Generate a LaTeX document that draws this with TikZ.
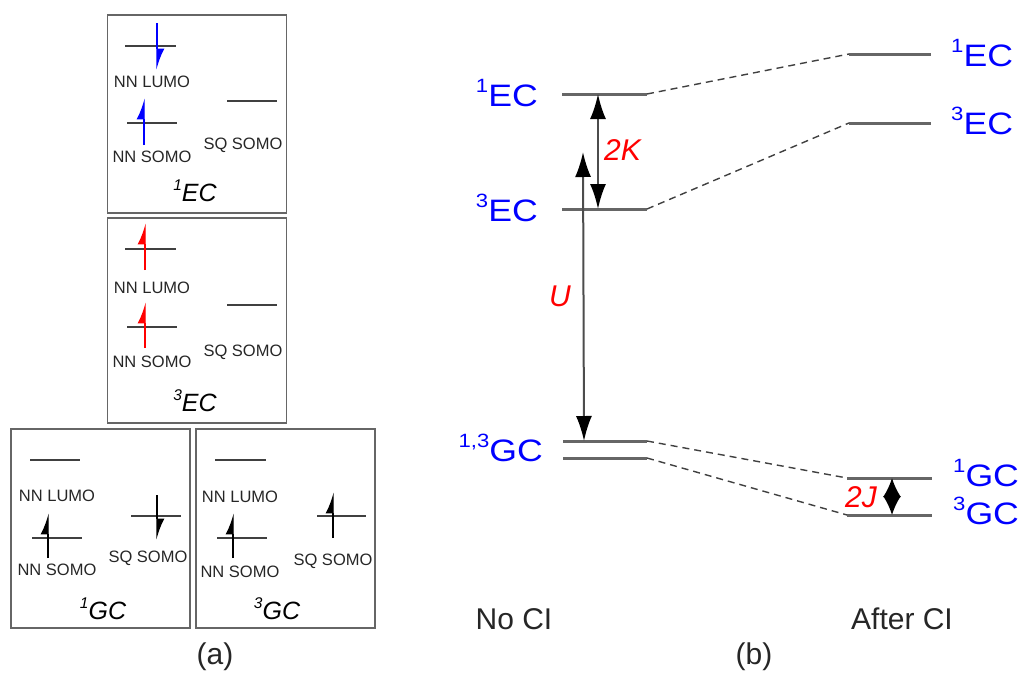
\documentclass[tikz,border=0pt]{standalone}
\usepackage{fontspec}
\setmainfont{Liberation Sans}
\usetikzlibrary{arrows.meta,positioning}
\newcommand\upidx[1]{\raisebox{.42em}{\scalebox{.62}{#1}}}
\newcommand\stname[2]{\scalebox{1.15}[1]{\upidx{#1}#2}}

\begin{document}
\begin{tikzpicture}[x=1pt,y=-1pt,
    panel/.style={draw=black!60, line width=1.6pt, minimum width=179pt, inner sep=0},
    orb/.style={draw=black!75, line width=1.6pt},
    orbtxt/.style={font=\fontsize{16.5}{17}\selectfont, text=black!85, inner sep=0},
    cfg/.style={font=\fontsize{25}{26}\selectfont\itshape, inner sep=0, anchor=base},
    spin/.style={line width=1.3pt, -{Latex[harpoon, length=19pt, width=15pt]}},
    lvl/.style={draw=black!60, line width=3pt},
    corr/.style={draw=black!75, line width=1.4pt, dash pattern=on 7pt off 5pt},
    gap/.style={draw=black!70, line width=2pt, {Latex[length=25pt,width=16pt,color=black]}-{Latex[length=25pt,width=16pt,color=black]}},
    gapsm/.style={draw=black!70, line width=2pt, {Latex[length=19pt,width=18pt,color=black]}-{Latex[length=19pt,width=18pt,color=black]}},
    state/.style={text=blue, font=\fontsize{31}{31}\selectfont, inner sep=0},
    coup/.style={text=red, font=\fontsize{30}{30}\selectfont\itshape, inner sep=0, anchor=base west},
    big/.style={font=\fontsize{30}{30}\selectfont, inner sep=0, anchor=base, text=black!85}]
  \useasboundingbox (0,0) rectangle (1026,675);

  % (a) orbital occupations
  \node[panel, minimum height=198pt] (ecs) at (197,114) {};
  \node[panel, minimum height=205pt] (ect) at (197,320.5) {};
  \node[panel, minimum height=199pt] (gcs) at (100.5,528.5) {};
  \node[panel, minimum height=199pt] (gct) at (285.5,528.5) {};

  \begin{scope}[shift={(107,15)}]
    \draw[orb] (18,31) -- (69,31);
    \draw[orb] (20,108) -- (70,108);
    \draw[orb] (120,86) -- (170,86);
    \node[orbtxt] (lumo1) at (45,67) {NN LUMO};
    \node[orbtxt] (somo1) at (45,142) {NN SOMO};
    \node[orbtxt] (sq1) at (136,130) {SQ SOMO};
    \draw[spin, blue] (50,8) -- (50,55);
    \draw[spin, blue] (37,130) -- (37,83);
    \node[cfg] (cfg1) at (88,186) {\upidx{1}EC};
  \end{scope}

  \begin{scope}[shift={(107,218)}]
    \draw[orb] (18,31) -- (69,31);
    \draw[orb] (20,109) -- (70,109);
    \draw[orb] (120,87) -- (170,87);
    \node[orbtxt] (lumo2) at (45,70) {NN LUMO};
    \node[orbtxt] (somo2) at (45,144) {NN SOMO};
    \node[orbtxt] (sq2) at (136,134) {SQ SOMO};
    \draw[spin, red] (38,52) -- (38,5);
    \draw[spin, red] (38,130) -- (38,84);
    \node[cfg] (cfg2) at (88,193) {\upidx{3}EC};
  \end{scope}

  \begin{scope}[shift={(11,429)}]
    \draw[orb] (19,31) -- (69,31);
    \draw[orb] (21,109) -- (71,109);
    \draw[orb] (120,87) -- (170,87);
    \node[orbtxt] (lumo3) at (46,67) {NN LUMO};
    \node[orbtxt] (somo3) at (46,141) {NN SOMO};
    \node[orbtxt] (sq3) at (137,129) {SQ SOMO};
    \draw[spin] (37,129) -- (37,84);
    \draw[spin] (146,66) -- (146,111);
    \node[cfg] (cfg3) at (92,190) {\upidx{1}GC};
  \end{scope}

  \begin{scope}[shift={(196,429)}]
    \draw[orb] (19,31) -- (70,31);
    \draw[orb] (21,109) -- (71,109);
    \draw[orb] (121,87) -- (170,87);
    \node[orbtxt] (lumo4) at (44,68) {NN LUMO};
    \node[orbtxt] (somo4) at (44,143) {NN SOMO};
    \node[orbtxt] (sq4) at (137,132) {SQ SOMO};
    \draw[spin] (37,129) -- (37,84);
    \draw[spin] (137,109) -- (137,63);
    \node[cfg] (cfg4) at (81,190) {\upidx{3}GC};
  \end{scope}

  % (b) energy levels
  \draw[lvl] (562,94) coordinate (ec1a) -- (647,94) coordinate (ec1b);
  \draw[lvl] (562,209) coordinate (ec3a) -- (647,209) coordinate (ec3b);
  \draw[lvl] (563,441) coordinate (gc1a) -- (647,441) coordinate (gc1b);
  \draw[lvl] (563,458) coordinate (gc3a) -- (647,458) coordinate (gc3b);
  \draw[lvl] (849,54) coordinate (ec1c) -- (931,54);
  \draw[lvl] (849,123) coordinate (ec3c) -- (931,123);
  \draw[lvl] (847,478) coordinate (gc1c) -- (932,478);
  \draw[lvl] (847,515) coordinate (gc3c) -- (932,515);

  \draw[corr] (ec1b) -- (ec1c);
  \draw[corr] (ec3b) -- (ec3c);
  \draw[corr] (gc1b) -- (gc1c);
  \draw[corr] (gc3b) -- (gc3c);

  \draw[gap] ([xshift=36pt]ec1a) -- ([xshift=36pt]ec3a);
  \draw[gap] ([xshift=21pt,yshift=57pt]ec3a) -- ([xshift=21pt]gc1a);
  \draw[gapsm] ([xshift=45pt]gc1c) -- ([xshift=45pt]gc3c);

  \node[state, anchor=base east] (ec1l) at (538,106) {\stname{1}{EC}};
  \node[state, anchor=base east] (ec3l) at (538,221) {\stname{3}{EC}};
  \node[state, anchor=base east] (gcl) at (543,461) {\stname{1,3}{GC}};
  \node[state, anchor=base west] (ec1r) at (951,66) {\stname{1}{EC}};
  \node[state, anchor=base west] (ec3r) at (951,134) {\stname{3}{EC}};
  \node[state, anchor=base west] (gc1r) at (953,486) {\stname{1}{GC}};
  \node[state, anchor=base west] (gc3r) at (953,524) {\stname{3}{GC}};

  \node[coup] (kk) at (604,160) {2K};
  \node[coup, anchor=base] (uu) at (560,306) {U};
  \node[coup] (jj) at (845,507) {2J};

  \node[big] (noci) at (514,629) {No CI};
  \node[big] (afci) at (902,629) {After CI};
  \node[big] (pa) at (215,664) {(a)};
  \node[big] (pb) at (754,664) {(b)};
\end{tikzpicture}
\end{document}
